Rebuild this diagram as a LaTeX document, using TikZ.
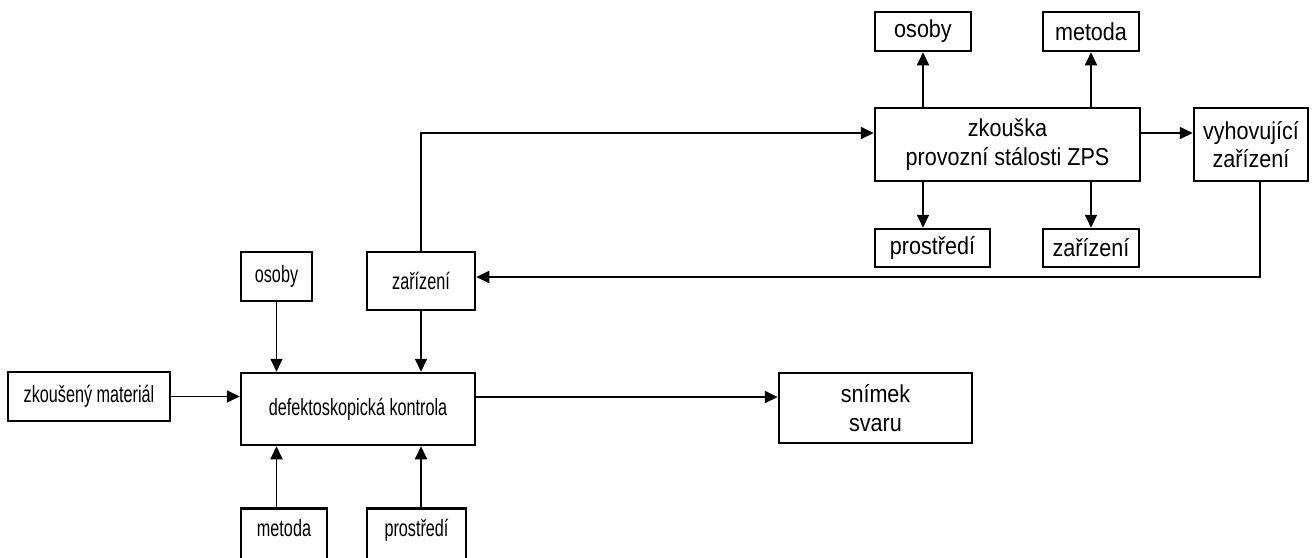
\documentclass[tikz,border=0pt]{standalone}
\usepackage{fontspec}
\setmainfont{Liberation Sans}
\newfontfamily\topfont[FakeStretch=0.88]{Liberation Sans}
\newfontfamily\narrowfont[FakeStretch=0.69]{Liberation Sans}
\usetikzlibrary{arrows.meta,calc}
\tikzset{
  boxtop/.style={draw, line width=2.5pt, inner sep=0pt, align=center, font=\topfont\fontsize{24.5}{28.5}\selectfont},
  boxbot/.style={draw, line width=2.5pt, inner sep=0pt, align=center, font=\narrowfont\fontsize{23.5}{28}\selectfont},
  arr/.style={line width=1.8pt, -{Triangle[length=13pt,width=12pt]}}
}
\begin{document}
\begin{tikzpicture}[x=1pt,y=-1pt]
\useasboundingbox (0,0) rectangle (1312,557);
% top part
\node[boxtop, minimum width=96pt, minimum height=39pt] (osobyT) at (923,31.5) {osoby};
\node[boxtop, minimum width=96pt, minimum height=39pt] (metodaT) at (1091,31.5) {metoda};
\node[boxtop, minimum width=265pt, minimum height=73pt] (zk) at (1007.5,144.5) {zkouška\\provozní stálosti ZPS};
\node[boxtop, minimum width=114pt, minimum height=73pt] (vyh) at (1251,144.5) {vyhovující\\zařízení};
\node[boxtop, minimum width=115pt, minimum height=38pt] (prostT) at (932.5,248) {prostředí};
\node[boxtop, minimum width=96pt, minimum height=38pt] (zarT) at (1091,248) {zařízení};
% bottom part
\node[boxbot, minimum width=71pt, minimum height=49pt] (osobyB) at (276.5,276.5) {osoby};
\node[boxbot, minimum width=108pt, minimum height=58pt] (zarB) at (421,281) {zařízení};
\node[boxbot, minimum width=162pt, minimum height=49pt] (mat) at (89,396.5) {zkoušený materiál};
\node[boxbot, minimum width=234pt, minimum height=72pt] (def) at (358,409) {defektoskopická kontrola};
\node[boxtop, minimum width=193pt, minimum height=70pt, font=\topfont\fontsize{24.5}{29.5}\selectfont] (snimek) at (875.5,408) {snímek\\svaru};
\node[boxbot, minimum width=86pt, text height=28pt, text depth=45pt, anchor=north] (metodaB) at (284,507) {metoda};
\node[boxbot, minimum width=99pt, text height=28pt, text depth=45pt, anchor=north] (prostB) at (416.5,507) {prostředí};
% connectors top
\draw[arr] (osobyT.south |- zk.north) -- (osobyT.south);
\draw[arr] (metodaT.south |- zk.north) -- (metodaT.south);
\draw[arr] (osobyT.south |- zk.south) -- (osobyT.south |- prostT.north);
\draw[arr] (zarT.north |- zk.south) -- (zarT.north);
\draw[arr] ([yshift=11.5pt]zk.east) -- ([yshift=11.5pt]zk.east -| vyh.west);
\draw[arr] (zarB.north) |- ([yshift=11.5pt]zk.west);
\draw[arr] ([xshift=9pt]vyh.south) |- ([yshift=4pt]zarB.east);
% connectors bottom
\draw[arr] (osobyB.south) -- (osobyB.south |- def.north);
\draw[arr] (zarB.south) -- (zarB.south |- def.north);
\draw[arr] (mat.east) -- (mat.east -| def.west);
\draw[arr] ([yshift=12pt]def.east) -- ([yshift=12pt]def.east -| snimek.west);
\draw[arr] (osobyB.south |- metodaB.north) -- (osobyB.south |- def.south);
\draw[arr] (zarB.south |- prostB.north) -- (zarB.south |- def.south);
\end{tikzpicture}
\end{document}
